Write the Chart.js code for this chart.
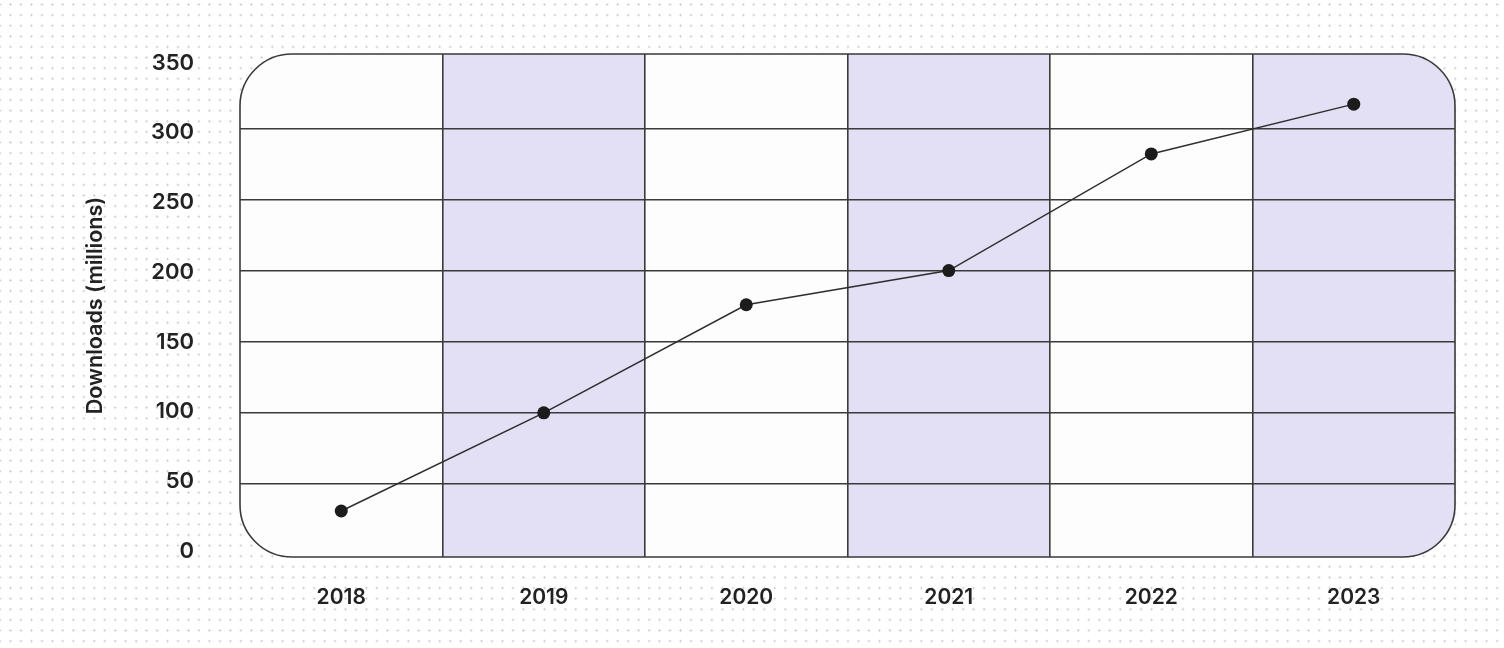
<!DOCTYPE html>
<html>
<head>
<meta charset="utf-8">
<script src="https://cdn.jsdelivr.net/npm/chart.js@4.4.1/dist/chart.umd.min.js"></script>
<style>
  html, body { margin: 0; padding: 0; }
  body {
    width: 1504px; height: 648px; overflow: hidden;
    background-color: #ffffff;
    background-image: radial-gradient(circle, #c9c9c9 0.85px, rgba(255,255,255,0) 1.25px);
    background-size: 10.47px 10.62px;
    background-position: -5.2px -0.8px;
  }
  #wrap { position: absolute; left: 0; top: 0; width: 1504px; height: 648px; }
</style>
</head>
<body>
<div id="wrap"><canvas id="c" width="1504" height="648"></canvas></div>
<script>
// ---- data ----
const years = ['2018', '2019', '2020', '2021', '2022', '2023'];
const downloads = [31, 100, 176, 200, 282, 317];
const yTickValues = [0, 50, 100, 150, 200, 250, 300, 350];
const shadedYears = ['2019', '2021', '2023'];
const yTitle = 'Downloads (millions)';

const FONT = 'Inter, "Noto Sans", "DejaVu Sans", sans-serif';
const LINE = '#3a3a3a';

function roundRectPath(ctx, x, y, w, h, r) {
  ctx.beginPath();
  ctx.moveTo(x + r, y);
  ctx.lineTo(x + w - r, y);
  ctx.arcTo(x + w, y, x + w, y + r, r);
  ctx.lineTo(x + w, y + h - r);
  ctx.arcTo(x + w, y + h, x + w - r, y + h, r);
  ctx.lineTo(x + r, y + h);
  ctx.arcTo(x, y + h, x, y + h - r, r);
  ctx.lineTo(x, y + r);
  ctx.arcTo(x, y, x + r, y, r);
  ctx.closePath();
}

function panelBox(chart) {
  const a = chart.chartArea;
  return { x: a.left, y: a.top, w: a.right - a.left, h: a.bottom - a.top, r: 52 };
}

const panelPlugin = {
  id: 'panel',
  beforeDraw(chart) {
    const ctx = chart.ctx;
    const b = panelBox(chart);
    const xs = chart.scales.x;
    ctx.save();
    roundRectPath(ctx, b.x, b.y, b.w, b.h, b.r);
    ctx.fillStyle = '#fdfdfd';
    ctx.fill();
    ctx.clip();
    const step = xs.getPixelForValue(1) - xs.getPixelForValue(0);
    ctx.fillStyle = '#e3dff5';
    shadedYears.forEach(yr => {
      const i = years.indexOf(yr);
      const cx = xs.getPixelForValue(i);
      ctx.fillRect(cx - step / 2, b.y - 2, step, b.h + 4);
    });
    ctx.restore();
  },
  beforeDatasetsDraw(chart) {
    const ctx = chart.ctx;
    const b = panelBox(chart);
    ctx.save();
    roundRectPath(ctx, b.x, b.y, b.w, b.h, b.r);
    ctx.strokeStyle = LINE;
    ctx.lineWidth = 1.6;
    ctx.stroke();
    ctx.restore();
  }
};

new Chart(document.getElementById('c'), {
  type: 'line',
  data: {
    labels: years,
    datasets: [{
      data: downloads,
      borderColor: '#2e2e2e',
      borderWidth: 1.5,
      pointRadius: 6.5,
      pointHoverRadius: 6.5,
      pointBackgroundColor: '#1c1c1c',
      pointBorderWidth: 0,
      tension: 0,
      fill: false,
      clip: false,
      yAxisID: 'y'
    }]
  },
  options: {
    responsive: false,
    devicePixelRatio: 1,
    animation: false,
    layout: { padding: { left: 0, right: 49, top: 54, bottom: 0 } },
    plugins: { legend: { display: false }, tooltip: { enabled: false }, title: { display: false } },
    scales: {
      x: {
        offset: true,
        border: { display: false },
        grid: {
          offset: true,
          drawTicks: false,
          lineWidth: 1.6,
          color: (c) => (c.type !== 'tick' || c.index === 0) ? 'rgba(0,0,0,0)' : LINE
        },
        ticks: {
          padding: 28,
          color: '#222222',
          font: { family: FONT, size: 21, weight: '600' }
        },
        afterFit: (s) => { s.height = 91; s.paddingLeft = 0; s.paddingRight = 0; }
      },
      y: {
        position: 'left',
        min: -1.34,
        max: 352.25,
        border: { display: false },
        grid: {
          drawTicks: false,
          lineWidth: 1.6,
          color: (c) => (c.tick && (c.tick.value === 0 || c.tick.value === 350)) ? 'rgba(0,0,0,0)' : LINE
        },
        afterBuildTicks: (s) => { s.ticks = yTickValues.map(v => ({ value: v })); },
        ticks: { display: false },
        afterFit: (s) => { s.width = 0; s.paddingTop = 0; s.paddingBottom = 0; }
      },
      yl: {
        position: 'left',
        min: -4.0,
        max: 356.5,
        border: { display: false },
        grid: { display: false, drawTicks: false },
        afterBuildTicks: (s) => { s.ticks = yTickValues.map(v => ({ value: v })); },
        ticks: {
          padding: 46,
          color: '#222222',
          font: { family: FONT, size: 22, weight: '600' }
        },
        title: {
          display: true,
          text: yTitle,
          color: '#222222',
          font: { family: FONT, size: 21.5, weight: '600' },
          padding: { top: 83, bottom: 0 }
        },
        afterFit: (s) => { s.width = 240; s.paddingTop = 0; s.paddingBottom = 0; }
      }
    }
  },
  plugins: [panelPlugin]
});
</script>
</body>
</html>
